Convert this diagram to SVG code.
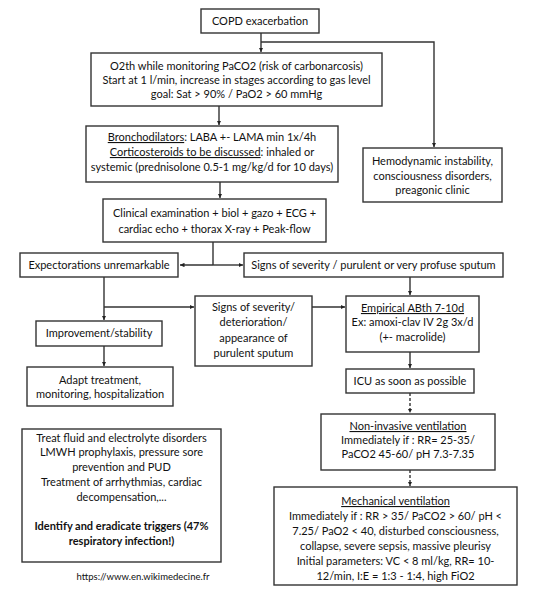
<svg xmlns="http://www.w3.org/2000/svg" width="543" height="600" viewBox="0 0 543 600">
<defs>
<marker id="ah" viewBox="0 0 10 10" refX="10" refY="5" markerWidth="4.5" markerHeight="4.5" orient="auto" markerUnits="userSpaceOnUse">
<path d="M0,0 L10,5 L0,10 z" fill="#222"/>
</marker>
<style>
.box{fill:#fff;stroke:#333;stroke-width:1.4}
.t{font-family:Lato,"Liberation Sans",sans-serif;font-size:11px;fill:#111;text-anchor:middle}
.b{font-weight:bold}
.u{text-decoration:underline}
.c{fill:none;stroke:#333;stroke-width:1.4}
.d{stroke-dasharray:3,2}
</style>
</defs>
<rect width="543" height="600" fill="#fff"/>
<g id="connectors">
<path class="c" d="M261,33 V52" marker-end="url(#ah)"/>
<path class="c" d="M261,42 H434 V147" marker-end="url(#ah)"/>
<path class="c" d="M219,106 V125" marker-end="url(#ah)"/>
<path class="c" d="M220,182 V198" marker-end="url(#ah)"/>
<path class="c" d="M213,242 V265"/>
<path class="c" d="M213,265 H180" marker-end="url(#ah)"/>
<path class="c" d="M213,265 H243" marker-end="url(#ah)"/>
<path class="c" d="M410,277 V295" marker-end="url(#ah)"/>
<path class="c" d="M104,277 V320" marker-end="url(#ah)"/>
<path class="c" d="M104,307 H194" marker-end="url(#ah)"/>
<path class="c" d="M312,307 H345" marker-end="url(#ah)"/>
<path class="c" d="M104,346 V366" marker-end="url(#ah)"/>
<path class="c" d="M410,352 V368" marker-end="url(#ah)"/>
<path class="c d" d="M410,393 V413" marker-end="url(#ah)"/>
<path class="c d" d="M410,470 V486" marker-end="url(#ah)"/>
</g>
<g id="copd">
<rect class="box" x="201" y="9" width="118" height="24"/>
<text class="t" x="260" y="25">COPD exacerbation</text>
</g>
<g id="o2">
<rect class="box" x="91" y="53" width="291" height="53"/>
<text class="t" x="236.5" y="70">O2th while monitoring PaCO2 (risk of carbonarcosis)</text>
<text class="t" x="236.5" y="84">Start at 1 l/min, increase in stages according to gas level</text>
<text class="t" x="236.5" y="98">goal: Sat &gt; 90% / PaO2 &gt; 60 mmHg</text>
</g>
<g id="broncho">
<rect class="box" x="86" y="126" width="252" height="56"/>
<text class="t" x="212" y="141"><tspan class="u">Bronchodilators</tspan>: LABA +- LAMA min 1x/4h</text>
<text class="t" x="212" y="156"><tspan class="u">Corticosteroids to be discussed</tspan>: inhaled or</text>
<text class="t" x="212" y="171">systemic (prednisolone 0.5-1 mg/kg/d for 10 days)</text>
</g>
<g id="hemo">
<rect class="box" x="363" y="148" width="139" height="54"/>
<text class="t" x="432.5" y="165">Hemodynamic instability,</text>
<text class="t" x="432.5" y="180">consciousness disorders,</text>
<text class="t" x="432.5" y="194">preagonic clinic</text>
</g>
<g id="clinical">
<rect class="box" x="103" y="199" width="223" height="43"/>
<text class="t" x="214.5" y="217">Clinical examination + biol + gazo + ECG +</text>
<text class="t" x="214.5" y="233">cardiac echo + thorax X-ray + Peak-flow</text>
</g>
<g id="expect">
<rect class="box" x="20" y="253" width="158" height="24"/>
<text class="t" x="99" y="269">Expectorations unremarkable</text>
</g>
<g id="signs">
<rect class="box" x="244" y="253" width="259" height="24"/>
<text class="t" x="373.5" y="269">Signs of severity / purulent or very profuse sputum</text>
</g>
<g id="deterioration">
<rect class="box" x="195" y="296" width="117" height="70"/>
<text class="t" x="253.5" y="311">Signs of severity/</text>
<text class="t" x="253.5" y="326">deterioration/</text>
<text class="t" x="253.5" y="342">appearance of</text>
<text class="t" x="253.5" y="357">purulent sputum</text>
</g>
<g id="empirical">
<rect class="box" x="346" y="296" width="133" height="56"/>
<text class="t" x="412.5" y="312"><tspan class="u">Empirical ABth 7-10d</tspan></text>
<text class="t" x="412.5" y="326">Ex: amoxi-clav IV 2g 3x/d</text>
<text class="t" x="412.5" y="341">(+- macrolide)</text>
</g>
<g id="improvement">
<rect class="box" x="36" y="321" width="126" height="25"/>
<text class="t" x="99" y="337">Improvement/stability</text>
</g>
<g id="adapt">
<rect class="box" x="27" y="367" width="146" height="39"/>
<text class="t" x="100" y="384">Adapt treatment,</text>
<text class="t" x="100" y="398">monitoring, hospitalization</text>
</g>
<g id="icu">
<rect class="box" x="346" y="369" width="128" height="24"/>
<text class="t" x="410" y="385">ICU as soon as possible</text>
</g>
<g id="niv">
<rect class="box" x="321" y="414" width="174" height="56"/>
<text class="t" x="408" y="430"><tspan class="u">Non-invasive ventilation</tspan></text>
<text class="t" x="408" y="444">Immediately if : RR= 25-35/</text>
<text class="t" x="408" y="458">PaCO2 45-60/ pH 7.3-7.35</text>
</g>
<g id="mech">
<rect class="box" x="274" y="487" width="243" height="98"/>
<text class="t" x="395.5" y="505"><tspan class="u">Mechanical ventilation</tspan></text>
<text class="t" x="395.5" y="520">Immediately if : RR &gt; 35/ PaCO2 &gt; 60/ pH &lt;</text>
<text class="t" x="395.5" y="535">7.25/ PaO2 &lt; 40, disturbed consciousness,</text>
<text class="t" x="395.5" y="550">collapse, severe sepsis, massive pleurisy</text>
<text class="t" x="395.5" y="565">Initial parameters: VC &lt; 8 ml/kg, RR= 10-</text>
<text class="t" x="395.5" y="580">12/min, I:E = 1:3 - 1:4, high FiO2</text>
</g>
<g id="general">
<rect class="box" x="22" y="429" width="199" height="133"/>
<text class="t" x="121.5" y="442">Treat fluid and electrolyte disorders</text>
<text class="t" x="121.5" y="456">LMWH prophylaxis, pressure sore</text>
<text class="t" x="121.5" y="471">prevention and PUD</text>
<text class="t" x="121.5" y="486">Treatment of arrhythmias, cardiac</text>
<text class="t" x="121.5" y="501">decompensation,...</text>
<text class="t b" x="121.5" y="530">Identify and eradicate triggers (47%</text>
<text class="t b" x="121.5" y="545">respiratory infection!)</text>
</g>
<g id="source">
<text class="t" x="143" y="580" style="font-size:9.5px">https://www.en.wikimedecine.fr</text>
</g>
</svg>
